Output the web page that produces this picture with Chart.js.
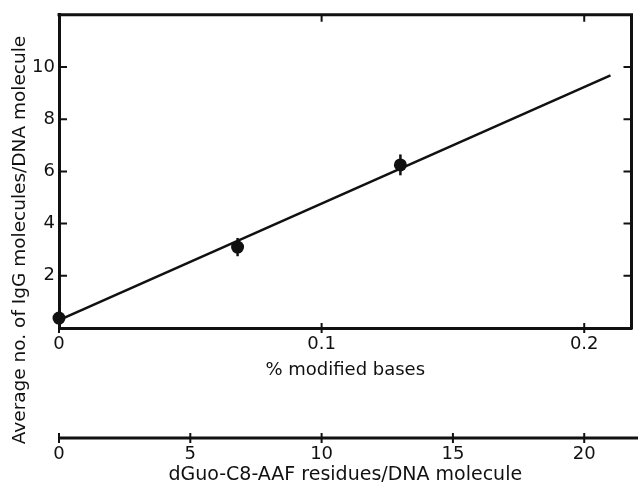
<!DOCTYPE html>
<html>
<head>
<meta charset="utf-8">
<script src="https://cdn.jsdelivr.net/npm/chart.js@4.4.0/dist/chart.umd.min.js"></script>
<style>
  html, body { margin: 0; padding: 0; background: #fff; }
  #wrap { width: 638px; height: 486px; }
</style>
</head>
<body>
<div id="wrap"><canvas id="c"></canvas></div>
<script>
// values
const pctTicks = [0, 0.1, 0.2];
const residueTicks = [0, 5, 10, 15, 20];
const yTicks = [2, 4, 6, 8, 10];
const pointX = [0, 0.068, 0.130];
const pointY = [0.38, 3.1, 6.25];
const pointErr = [0, 0.35, 0.4];
const fitX = [0, 0.21];
const fitY = [0.3, 9.68];

const ink = '#111';
const face = '"DejaVu Sans", Verdana, sans-serif';

// box top/right, inward ticks, second axis line, error bars
const frame = {
  id: 'frame',
  afterDatasetsDraw(chart) {
    const { ctx, scales } = chart;
    ctx.save();
    ctx.strokeStyle = ink;
    ctx.lineWidth = 2.5;
    pointX.forEach((v, i) => {
      if (!pointErr[i]) return;
      const px = scales.x.getPixelForValue(v);
      ctx.beginPath();
      ctx.moveTo(px, scales.y.getPixelForValue(pointY[i] - pointErr[i]));
      ctx.lineTo(px, scales.y.getPixelForValue(pointY[i] + pointErr[i]));
      ctx.stroke();
    });
    ctx.restore();
  },
  afterDraw(chart) {
    const { ctx, chartArea: a, scales } = chart;
    const x = scales.x, x2 = scales.x2, y = scales.y;
    ctx.save();
    ctx.strokeStyle = ink;
    ctx.lineWidth = 3;
    ctx.beginPath();
    ctx.moveTo(a.left - 1.5, a.top);
    ctx.lineTo(a.right, a.top);
    ctx.lineTo(a.right, a.bottom + 1.5);
    ctx.stroke();

    const ly = x2.top;
    ctx.beginPath();
    ctx.moveTo(a.left, ly);
    ctx.lineTo(chart.width, ly);
    ctx.stroke();

    ctx.lineWidth = 2;
    ctx.beginPath();
    pctTicks.forEach(v => {
      const px = x.getPixelForValue(v);
      ctx.moveTo(px, a.bottom - 5); ctx.lineTo(px, a.bottom + 5);
      if (v > 0) { ctx.moveTo(px, a.top); ctx.lineTo(px, a.top + 7); }
    });
    residueTicks.forEach(v => {
      const px = x2.getPixelForValue(v);
      ctx.moveTo(px, ly - 5); ctx.lineTo(px, ly + 5);
    });
    yTicks.forEach(v => {
      const py = y.getPixelForValue(v);
      ctx.moveTo(a.left, py); ctx.lineTo(a.left + 8, py);
      ctx.moveTo(a.right, py); ctx.lineTo(a.right - 8, py);
    });
    ctx.stroke();

    ctx.fillStyle = ink;
    ctx.font = '18.5px ' + face;
    ctx.textAlign = 'center';
    ctx.textBaseline = 'middle';
    ctx.translate(20, 240);
    ctx.rotate(-Math.PI / 2);
    ctx.fillText('Average no. of IgG molecules/DNA molecule', 0, 0);
    ctx.restore();
  }
};

new Chart(document.getElementById('c'), {
  type: 'scatter',
  data: {
    datasets: [
      {
        label: 'fit',
        data: fitX.map((v, i) => ({ x: v, y: fitY[i] })),
        showLine: true,
        borderColor: ink,
        borderWidth: 2.5,
        pointRadius: 0,
        xAxisID: 'x',
        yAxisID: 'y'
      },
      {
        label: 'IgG',
        data: pointX.map((v, i) => ({ x: v, y: pointY[i] })),
        pointRadius: 6.5,
        pointBackgroundColor: ink,
        pointBorderColor: ink,
        pointBorderWidth: 0,
        clip: false,
        xAxisID: 'x',
        yAxisID: 'y'
      }
    ]
  },
  options: {
    responsive: true,
    maintainAspectRatio: false,
    animation: false,
    events: [],
    layout: { padding: { top: 12, right: 5, left: 0, bottom: 0 } },
    plugins: { legend: { display: false }, tooltip: { enabled: false } },
    scales: {
      x: {
        type: 'linear',
        position: 'bottom',
        min: 0,
        max: 0.218,
        afterBuildTicks: s => { s.ticks = pctTicks.map(v => ({ value: v })); },
        afterFit: s => { s.height = 110; },
        grid: { display: false, drawTicks: false },
        border: { display: true, color: ink, width: 3 },
        ticks: { color: ink, font: { family: face, size: 18 }, padding: 6, maxRotation: 0 },
        title: { display: true, text: '% modified bases', color: ink, font: { family: face, size: 18 }, padding: { top: 0, bottom: 57 } }
      },
      x2: {
        type: 'linear',
        position: 'bottom',
        min: 0,
        max: 21.8,
        afterBuildTicks: s => { s.ticks = residueTicks.map(v => ({ value: v })); },
        afterFit: s => { s.height = 48; },
        grid: { display: false, drawTicks: false },
        border: { display: false },
        ticks: { color: ink, font: { family: face, size: 18 }, padding: 6, maxRotation: 0 },
        title: { display: true, text: 'dGuo-C8-AAF residues/DNA molecule', color: ink, font: { family: face, size: 19 }, padding: { top: 0, bottom: 0 } }
      },
      y: {
        type: 'linear',
        position: 'left',
        min: 0,
        max: 12,
        afterBuildTicks: s => { s.ticks = yTicks.map(v => ({ value: v })); },
        afterFit: s => { s.width = 59; },
        grid: { display: false, drawTicks: false },
        border: { display: true, color: ink, width: 3 },
        ticks: { color: ink, font: { family: face, size: 18 }, padding: 4 }
      }
    }
  },
  plugins: [frame]
});
</script>
</body>
</html>
